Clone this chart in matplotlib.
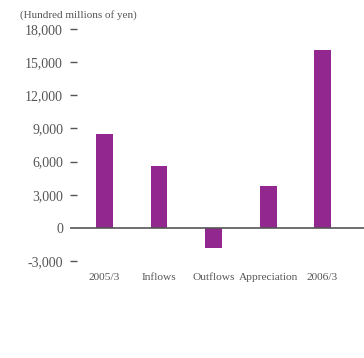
import matplotlib.pyplot as plt

categories = ['2005/3', 'Inflows', 'Outflows', 'Appreciation', '2006/3']
values = [8500, 5600, -1800, 3750, 16100]
yticks = [-3000, 0, 3000, 6000, 9000, 12000, 15000, 18000]
ytick_labels = ['-3,000', '0', '3,000', '6,000', '9,000', '12,000', '15,000', '18,000']

plt.rcParams['font.family'] = ['Liberation Serif', 'DejaVu Serif']
gray = '#555555'

fig = plt.figure(figsize=(3.64, 3.58), dpi=100)
ax = fig.add_axes([70 / 364, 97 / 358, 294 / 364, 232 / 358])

x = list(range(len(categories)))
ax.bar(x, values, width=0.31, color='#92278F', zorder=2)
ax.axhline(0, color='#555555', linewidth=1.2, zorder=3)

ax.set_xlim(-0.633, 4.76)
ax.set_ylim(-3000, 18000)
ax.set_yticks(yticks)
ax.set_yticklabels(ytick_labels)
ax.set_xticks(x)
ax.set_xticklabels(categories)

for s in ax.spines.values():
    s.set_visible(False)

ax.tick_params(axis='y', direction='in', length=5, width=1, color=gray,
               labelcolor=gray, labelsize=10, pad=5)
ax.tick_params(axis='x', length=0, labelcolor=gray, labelsize=8.2, pad=9)
# no tick mark at zero, the axis line sits there
ax.yaxis.get_major_ticks()[1].tick1line.set_visible(False)

fig.text(20 / 364, 1 - 15 / 358, '(Hundred millions of yen)', fontsize=8,
         color=gray, va='center', ha='left')

fig.savefig('out.png', dpi=100)
